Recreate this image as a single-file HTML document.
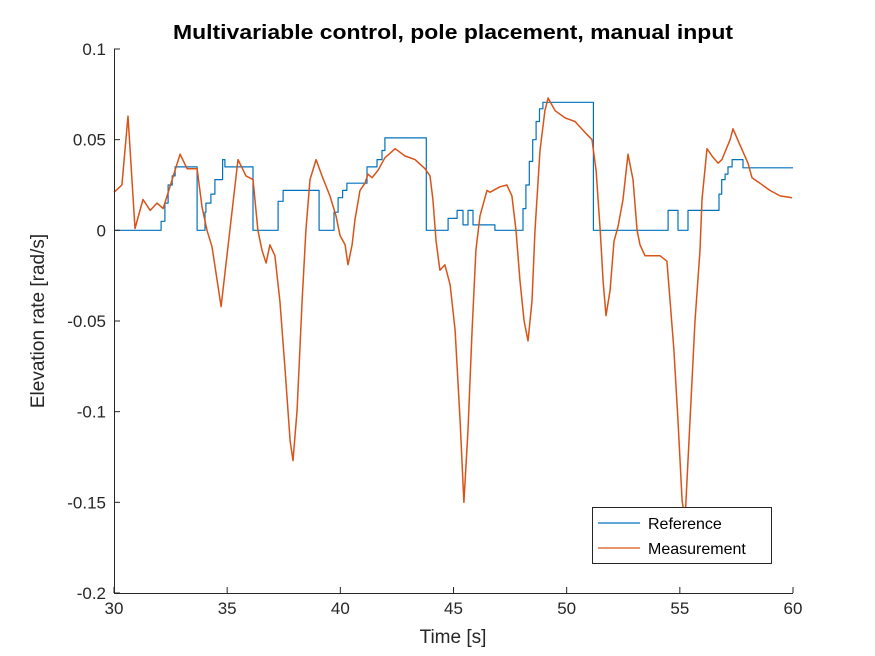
<!DOCTYPE html>
<html><head><meta charset="utf-8"><style>
body{margin:0;background:#fff;}
svg{display:block;font-family:"Liberation Sans",Arial,sans-serif;}
</style></head><body>
<svg id="chart" width="875" height="656" viewBox="0 0 875 656">
<rect width="875" height="656" fill="#fff"/>
<text x="453" y="39" text-anchor="middle" font-size="20" font-weight="bold" fill="#000" textLength="560" lengthAdjust="spacingAndGlyphs">Multivariable control, pole placement, manual input</text>
<g id="plot"></g>
<g id="axes"></g>
<text x="453" y="643" text-anchor="middle" font-size="19" fill="#262626">Time [s]</text>
<text transform="translate(44,321) rotate(-90)" text-anchor="middle" font-size="19" fill="#262626">Elevation rate [rad/s]</text>
<g>
<rect x="592.5" y="507.5" width="179" height="56" fill="#fff" stroke="#262626" stroke-width="1"/>
<line x1="598" y1="523" x2="640" y2="523" stroke="#0072BD" stroke-width="1.2"/>
<text x="648" y="529" font-size="16" fill="#000">Reference</text>
<line x1="598" y1="548" x2="640" y2="548" stroke="#D95319" stroke-width="1.2"/>
<text x="648" y="554" font-size="16" fill="#000">Measurement</text>
</g>
</svg>
<script>
const xTicks=[30,35,40,45,50,55,60];
const yTicks=[0.1,0.05,0,-0.05,-0.1,-0.15,-0.2];
const yTickLabels=["0.1","0.05","0","-0.05","-0.1","-0.15","-0.2"];
// reference is a step signal: value holds from refT[i] until refT[i+1]
const refT=[30,32.08,32.25,32.39,32.57,32.7,33.67,34.02,34.06,34.28,34.46,34.8,34.9,36.14,37.25,37.47,39.06,39.72,39.9,40.1,40.29,41.18,41.62,41.84,41.97,43.8,44.76,45.16,45.42,45.64,45.86,46.83,48.07,48.2,48.35,48.5,48.65,48.8,48.95,51.18,54.48,54.92,55.36,56.73,56.85,57.0,57.13,57.31,57.79,60];
const refV=[0,0.005,0.015,0.025,0.03,0.035,0,0.01,0.015,0.02,0.028,0.039,0.035,0,0.016,0.022,0,0.01,0.018,0.022,0.026,0.035,0.039,0.044,0.051,0,0.0066,0.011,0.003,0.011,0.003,0,0.012,0.025,0.038,0.05,0.06,0.067,0.0706,0,0.011,0,0.011,0.02,0.028,0.031,0.035,0.039,0.0345,0.0345];
const measT=[30,30.18,30.35,30.62,30.93,31.28,31.6,31.9,32.17,32.92,33.23,33.67,33.89,34.11,34.33,34.73,35.48,35.83,36.14,36.36,36.54,36.72,36.89,37.11,37.33,37.56,37.78,37.91,38.09,38.31,38.48,38.66,38.93,39.19,39.54,39.81,39.99,40.21,40.34,40.52,40.65,40.87,41.09,41.22,41.4,41.66,41.97,42.42,42.86,43.3,43.74,43.96,44.09,44.23,44.4,44.62,44.85,45.07,45.29,45.46,45.64,45.82,45.99,46.17,46.48,46.61,47.05,47.36,47.58,47.76,47.94,48.12,48.29,48.47,48.6,48.82,49.04,49.18,49.49,49.93,50.37,50.81,51.12,51.3,51.48,51.61,51.74,51.92,52.09,52.27,52.49,52.71,52.93,53.11,53.24,53.46,54.12,54.43,54.57,54.74,54.92,55.1,55.23,55.45,55.67,55.89,55.98,56.2,56.42,56.69,56.86,57.22,57.35,57.66,58.01,58.19,58.54,58.98,59.43,59.96];
const measV=[0.021,0.023,0.025,0.063,0.001,0.017,0.011,0.015,0.012,0.042,0.034,0.034,0.013,0,-0.009,-0.042,0.039,0.030,0.028,0,-0.011,-0.018,-0.008,-0.014,-0.039,-0.077,-0.116,-0.127,-0.099,-0.039,0,0.028,0.039,0.030,0.019,0.008,-0.003,-0.008,-0.019,-0.008,0.006,0.022,0.026,0.031,0.029,0.033,0.040,0.045,0.041,0.039,0.034,0.030,0.017,-0.006,-0.022,-0.019,-0.030,-0.055,-0.105,-0.150,-0.110,-0.055,-0.011,0.008,0.022,0.021,0.024,0.025,0.019,0,-0.028,-0.050,-0.061,-0.039,0,0.044,0.066,0.073,0.066,0.062,0.060,0.054,0.050,0.033,0,-0.028,-0.047,-0.033,-0.006,0.002,0.017,0.042,0.028,0,-0.008,-0.014,-0.014,-0.017,-0.039,-0.066,-0.105,-0.149,-0.160,-0.105,-0.050,-0.011,0.017,0.045,0.041,0.037,0.039,0.050,0.056,0.047,0.037,0.029,0.026,0.022,0.019,0.018];
const X0=114,X1=793,Y0=49,Y1=593;
const xs=t=>X0+(t-30)/30*(X1-X0);
const ys=v=>Y0+(0.1-v)/0.3*(Y1-Y0);
const NS="http://www.w3.org/2000/svg";
const plot=document.getElementById('plot'),axes=document.getElementById('axes');
function mk(tag,attrs,parent){const e=document.createElementNS(NS,tag);for(const k in attrs)e.setAttribute(k,attrs[k]);parent.appendChild(e);return e;}
function addPath(d,color,w,name){
  const p=mk('path',{d:d,fill:'none',stroke:color,'stroke-width':w,'stroke-linejoin':'round'},plot);
  
  
}
let rd='M'+xs(refT[0]).toFixed(1)+','+ys(refV[0]).toFixed(1);
for(let i=1;i<refT.length;i++){rd+='H'+xs(refT[i]).toFixed(1)+'V'+ys(refV[i]).toFixed(1);}
addPath(rd,'#0072BD',1.2,'reference-line');
const md=measT.map((t,i)=>(i?'L':'M')+xs(t).toFixed(1)+','+ys(measV[i]).toFixed(1)).join('');
addPath(md,'#D95319',1.5,'measurement-line');
const xa=mk('line',{x1:X0,y1:Y1+0.5,x2:X1,y2:Y1+0.5,stroke:'#262626','stroke-width':1},axes);


const ya=mk('line',{x1:X0+0.5,y1:Y0,x2:X0+0.5,y2:Y1,stroke:'#262626','stroke-width':1},axes);


xTicks.forEach(t=>{
  const x=xs(t);
  const l=mk('line',{x1:x,y1:Y1,x2:x,y2:Y1-6,stroke:'#262626'},axes);
  
  
  const tx=mk('text',{x:x,y:Y1+21,'text-anchor':'middle','font-size':17,fill:'#262626'},axes);
  tx.textContent=String(t);
  
  
});
yTicks.forEach((v,i)=>{
  const y=ys(v);
  const l=mk('line',{x1:X0,y1:y,x2:X0+6,y2:y,stroke:'#262626'},axes);
  
  
  const tx=mk('text',{x:X0-8,y:y+6,'text-anchor':'end','font-size':17,fill:'#262626'},axes);
  tx.textContent=yTickLabels[i];
  
  
});
</script>
</body></html>
